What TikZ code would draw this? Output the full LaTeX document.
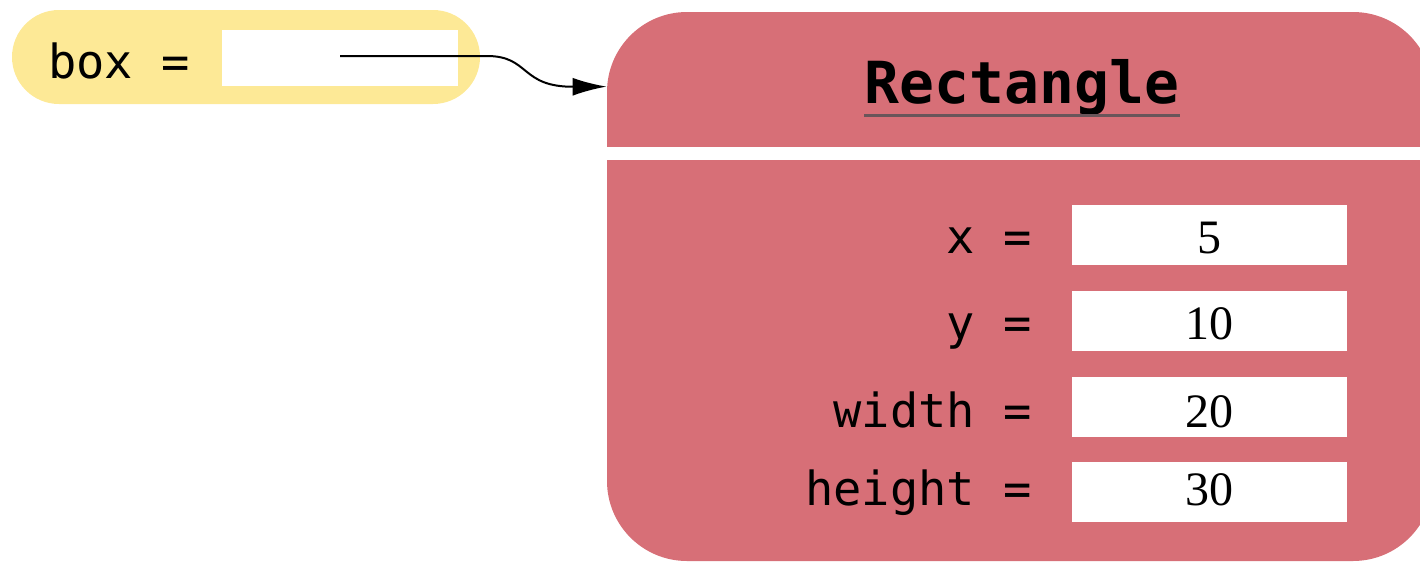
\documentclass[tikz,border=0pt]{standalone}
\usepackage{fontspec}
\setmainfont{Liberation Serif}
\setmonofont{DejaVu Sans Mono}
\usetikzlibrary{arrows.meta}
\definecolor{objred}{RGB}{215,111,119}
\definecolor{varyellow}{RGB}{253,233,150}
\definecolor{ulgray}{RGB}{105,85,90}
\tikzset{
  valbox/.style={fill=white,inner sep=0pt,minimum width=137.5pt,minimum height=30pt},
  fieldlbl/.style={anchor=base east,inner sep=0pt,font=\fontsize{23.5}{24}\selectfont\ttfamily},
  numtext/.style={anchor=base,inner sep=0pt,font=\fontsize{24}{24}\selectfont}
}
\begin{document}
\begin{tikzpicture}[x=0.5pt,y=-0.5pt]
    \useasboundingbox (0,0) rectangle (1420,563);
    % the variable
    \node[fill=varyellow,rounded corners=23.5pt,inner sep=0pt,minimum width=234pt,minimum height=47pt] (var) at (246,57) {};
    \node[fill=white,inner sep=0pt,minimum width=118pt,minimum height=28pt] (ref) at (340,58) {};
    \node[fieldlbl] (varlbl) at (190,78) {box =};
    % the object
    \node[fill=objred,rounded corners=40pt,inner sep=0pt,minimum width=413pt,minimum height=274.5pt] (obj) at (1020,286.5) {};
    \fill[white] (607,147) rectangle (1420,160);
    \node[anchor=base,inner sep=0pt,font=\fontsize{29}{30}\selectfont\ttfamily\bfseries] (title) at (1022,103) {Rectangle};
    \draw[line width=1.5pt,ulgray] ([yshift=-6pt]title.base west) -- ([yshift=-6pt]title.base east);
    \foreach \val/\lbl/\cy/\by [count=\i] in {5/x =/234.5/253, 10/y =/321/339, 20/width =/407/427, 30/height =/492/505}{
        \node[valbox] (val\i) at (1209.5,\cy) {};
        \node[numtext] (num\i) at (1209.5,\by) {\val};
        \node[fieldlbl] (lbl\i) at (1032,\by) {\lbl};
    }
    % the reference
    \coordinate (ptr) at (340,56);
    \draw[line width=1pt,-{Latex[length=17pt,width=9pt]}] (ptr) -- (487,56)
        .. controls (530,56) and (520,87) .. ([yshift=-37.5pt]obj.north west);
\end{tikzpicture}
\end{document}
